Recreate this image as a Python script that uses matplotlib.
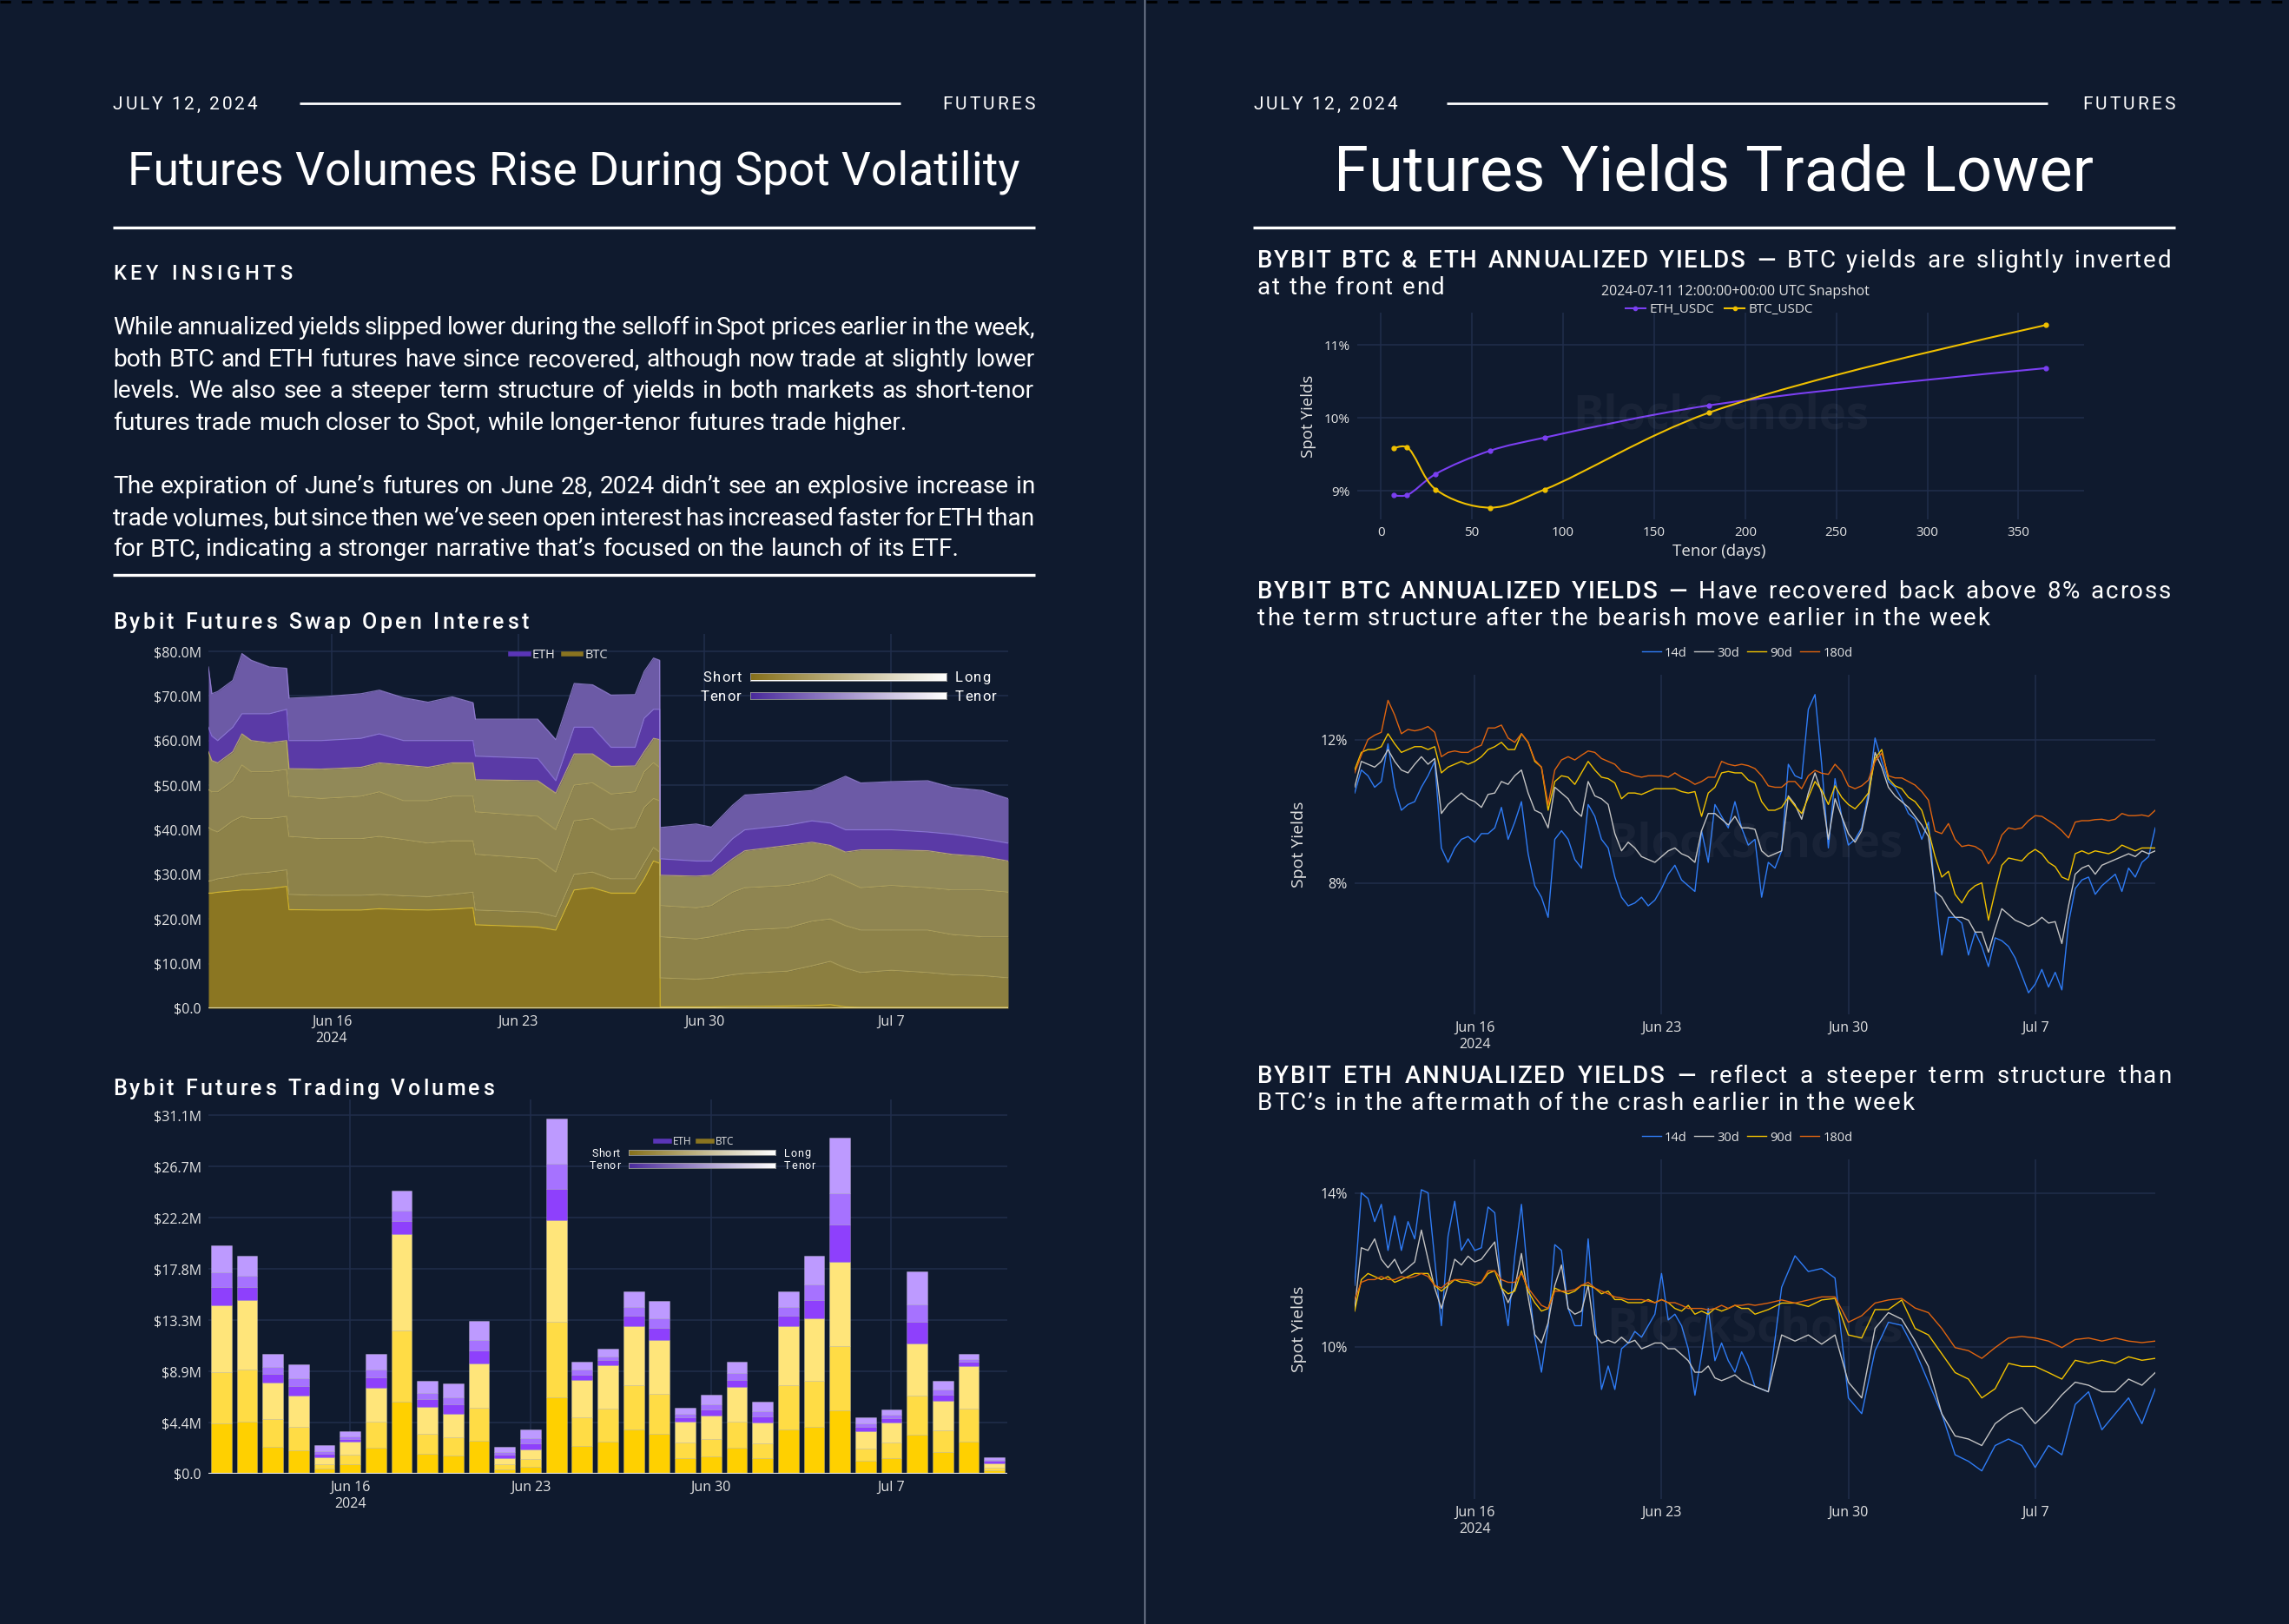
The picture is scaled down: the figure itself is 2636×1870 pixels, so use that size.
import numpy as np
import matplotlib
matplotlib.use("Agg")
import matplotlib.pyplot as plt
import matplotlib.dates as mdates
from matplotlib import font_manager as fm
from matplotlib.ft2font import FT2Font
from matplotlib.lines import Line2D
from matplotlib.path import Path
from matplotlib.patches import PathPatch
from matplotlib.colors import LinearSegmentedColormap

W, H = 2636, 1870
BG = "#0f1a2e"
GRID = "#212e4c"
TICK = "#e4e4e4"
TEXT_FONT = "Roboto"
CHART_FONT = "Open Sans"

# ---------------- page text ----------------
PARA1 = [
    "While annualized yields slipped lower during the selloff in Spot prices earlier in the week,",
    "both BTC and ETH futures have since recovered, although now trade at slightly lower",
    "levels. We also see a steeper term structure of yields in both markets as short-tenor",
    "futures trade much closer to Spot, while longer-tenor futures trade higher.",
]
PARA2 = [
    "The expiration of June\u2019s futures on June 28, 2024 didn\u2019t see an explosive increase in",
    "trade volumes, but since then we\u2019ve seen open interest has increased faster for ETH than",
    "for BTC, indicating a stronger narrative that\u2019s focused on the launch of its ETF.",
]

# ---------------- open interest (June day number, cumulative $M levels) ----------------
oi_day = [11.37, 11.50, 11.72, 12.29, 12.63, 12.98, 13.66, 14.31, 14.40, 15.60, 17.10, 17.79,
          18.70, 19.62, 20.53, 21.31, 21.40, 23.74, 24.42, 25.11, 25.80, 26.49, 27.40, 27.74,
          28.09, 28.32, 28.34, 29.69, 30.26, 31.06, 31.52, 33.12, 34.04, 34.73, 35.30, 35.87,
          37.02, 38.39, 39.30, 40.45, 41.41]
oi_btc_front = [25.8, 25.8, 26.0, 26.3, 26.5, 26.5, 26.8, 27.3, 22.1, 22.0, 22.0, 22.3,
                22.1, 22.0, 22.2, 22.5, 18.7, 18.2, 17.5, 26.5, 27.0, 25.8, 25.8, 29.0,
                33.0, 32.5, 0.3, 0.3, 0.3, 0.4, 0.4, 0.5, 0.6, 0.8, 0.3, 0.2,
                0.2, 0.2, 0.2, 0.2, 0.2]
oi_btc_2 = [28.5, 28.6, 29.0, 29.5, 30.0, 30.2, 30.5, 31.0, 25.5, 25.3, 25.3, 25.5,
            25.2, 25.0, 25.5, 26.0, 22.0, 21.5, 20.5, 30.0, 30.5, 29.0, 29.0, 32.5,
            36.0, 35.0, 6.8, 6.5, 6.7, 7.5, 7.8, 8.3, 9.5, 10.5, 9.0, 8.0,
            8.5, 8.0, 7.5, 7.3, 6.8]
oi_btc_3 = [40.5, 40.0, 39.5, 42.0, 43.0, 42.5, 42.5, 43.0, 38.5, 38.0, 38.0, 38.5,
            37.8, 37.0, 37.5, 37.5, 34.5, 33.5, 30.5, 42.0, 42.5, 40.0, 40.5, 45.0,
            47.0, 46.5, 16.0, 15.5, 16.0, 17.0, 17.5, 18.0, 19.5, 20.0, 18.5, 17.5,
            17.5, 17.5, 16.5, 16.0, 16.0]
oi_btc_4 = [49.0, 48.5, 48.5, 51.0, 54.5, 53.0, 53.0, 53.5, 47.5, 47.0, 47.5, 48.5,
            46.5, 46.5, 47.5, 47.5, 44.0, 43.0, 40.0, 50.0, 50.5, 48.0, 48.5, 53.0,
            55.0, 54.0, 23.0, 22.5, 23.0, 26.0, 27.0, 27.5, 28.5, 30.0, 28.5, 27.0,
            27.5, 27.0, 26.5, 26.5, 26.0]
oi_btc_total = [57.5, 55.5, 55.0, 57.5, 61.5, 60.0, 59.5, 60.0, 53.7, 53.6, 54.0, 55.0,
                54.5, 54.0, 55.0, 55.0, 51.2, 51.0, 48.2, 57.0, 57.0, 54.2, 54.3, 57.5,
                60.5, 60.2, 29.8, 29.6, 29.8, 33.5, 35.3, 36.5, 37.2, 36.5, 35.0, 35.5,
                35.5, 35.3, 34.5, 34.0, 33.0]
oi_eth_front = [63.0, 61.0, 60.0, 63.0, 66.0, 66.0, 66.0, 67.0, 60.0, 60.0, 60.5, 61.5,
                60.0, 60.0, 60.0, 60.0, 56.5, 56.0, 51.0, 63.0, 63.0, 58.5, 58.5, 65.0,
                67.0, 67.0, 33.5, 33.0, 33.0, 38.0, 40.0, 41.0, 42.0, 41.5, 40.0, 40.0,
                40.0, 39.5, 39.0, 38.0, 37.0]
oi_total = [76.5, 70.5, 71.0, 73.5, 79.5, 78.0, 76.5, 76.2, 69.5, 69.8, 70.5, 71.3,
            69.6, 68.6, 69.8, 68.5, 64.8, 64.8, 60.2, 72.8, 72.5, 70.2, 70.3, 75.5,
            78.5, 78.0, 40.5, 41.3, 40.6, 45.5, 47.8, 48.4, 48.8, 50.5, 52.0, 50.5,
            50.8, 51.0, 49.5, 48.8, 47.0]

# ---------------- daily trading volumes, Jun 11 .. Jul 11 ($M) ----------------
vol_btc = [14.63, 15.09, 7.90, 6.75, 1.40, 2.75, 7.47, 20.75, 5.79, 5.23, 9.56, 1.38, 2.12,
           22.02, 8.13, 9.41, 12.82, 11.60, 4.51, 5.05, 7.52, 4.44, 12.82, 13.46, 18.40,
           3.67, 4.46, 11.27, 6.32, 9.36, 0.94]
vol_eth = [5.20, 3.80, 2.47, 2.76, 1.07, 0.95, 2.90, 3.80, 2.26, 2.57, 3.67, 0.97, 1.75,
           8.82, 1.61, 1.40, 2.96, 3.39, 1.23, 1.83, 2.17, 1.78, 2.98, 5.43, 10.76,
           1.25, 1.15, 6.27, 1.73, 1.07, 0.51]
btc_tenor_share = [0.30, 0.30, 0.40]
eth_tenor_share = [0.30, 0.25, 0.45]

# ---------------- term structure snapshot ----------------
tenor_days = [7, 14, 30, 60, 90, 180, 365]
eth_curve = [8.94, 8.94, 9.23, 9.55, 9.73, 10.17, 10.68]
btc_curve = [9.58, 9.60, 9.02, 8.77, 9.02, 10.07, 11.27]

# ---------------- BTC annualized yields, every 6h from Jun 11 12:00 (%) ----------------
btc_14d = [10.52, 11.16, 11.00, 10.68, 10.84, 11.89, 10.68, 10.04, 10.20, 10.28,
           10.68, 11.00, 11.40, 8.99, 8.59, 8.99, 9.23, 9.31, 9.15, 9.39,
           9.39, 9.55, 10.12, 9.23, 9.71, 10.28, 8.83, 7.94, 7.62, 7.06,
           9.23, 9.47, 9.23, 8.67, 8.43, 10.20, 9.87, 9.23, 8.99, 8.18,
           7.62, 7.38, 7.46, 7.62, 7.38, 7.54, 7.86, 8.26, 8.51, 8.10,
           7.94, 7.78, 9.47, 8.59, 10.20, 9.87, 9.55, 10.28, 9.55, 9.07,
           9.23, 7.62, 8.59, 8.43, 8.91, 11.32, 11.00, 10.92, 12.85, 13.26,
           11.32, 8.99, 10.92, 9.87, 9.07, 9.23, 9.55, 10.52, 12.05, 11.40,
           10.84, 10.68, 10.36, 9.95, 9.79, 9.23, 9.71, 7.78, 6.01, 7.06,
           7.06, 6.90, 6.01, 6.65, 6.25, 5.69, 6.49, 6.41, 6.25, 5.93,
           5.45, 4.96, 5.20, 5.61, 5.12, 5.53, 5.04, 6.90, 7.86, 8.10,
           8.18, 7.70, 7.94, 8.10, 8.26, 7.78, 8.43, 8.18, 8.59, 8.75, 9.55]
btc_30d = [10.68, 11.40, 11.32, 11.24, 11.40, 11.73, 11.40, 11.16, 11.08, 11.32,
           11.53, 11.32, 11.48, 9.95, 10.20, 10.36, 10.52, 10.36, 10.28, 10.12,
           10.48, 10.52, 10.84, 10.76, 11.00, 11.16, 10.52, 10.04, 9.95, 9.55,
           10.68, 10.52, 10.36, 10.04, 9.87, 10.84, 10.44, 10.36, 10.20, 9.39,
           8.91, 9.15, 8.99, 8.75, 8.67, 8.59, 8.75, 8.91, 8.99, 8.83,
           8.75, 8.59, 9.47, 9.95, 9.95, 9.79, 9.63, 9.87, 9.55, 9.55,
           9.51, 8.91, 8.75, 8.83, 8.91, 10.44, 10.20, 9.79, 10.52, 11.08,
           10.52, 9.23, 10.36, 9.87, 9.39, 9.15, 9.47, 10.36, 11.65, 11.24,
           10.68, 10.44, 10.28, 10.12, 9.87, 9.63, 9.31, 7.78, 7.62, 7.30,
           7.06, 7.06, 6.98, 6.65, 6.65, 6.09, 6.73, 7.30, 7.14, 6.98,
           6.90, 6.81, 6.90, 7.06, 6.90, 6.94, 6.33, 7.38, 8.26, 8.43,
           8.51, 8.26, 8.51, 8.59, 8.67, 8.75, 8.83, 8.75, 8.91, 8.83, 8.91]
btc_90d = [11.16, 11.65, 11.73, 11.73, 11.81, 12.17, 11.89, 11.65, 11.73, 11.81,
           11.81, 11.73, 11.81, 11.08, 11.24, 11.32, 11.40, 11.32, 11.40, 11.53,
           11.73, 11.81, 11.93, 11.73, 11.73, 12.17, 11.93, 11.40, 11.24, 10.04,
           10.84, 11.00, 10.96, 10.76, 11.08, 11.40, 11.16, 10.96, 10.92, 10.80,
           10.36, 10.52, 10.52, 10.48, 10.56, 10.64, 10.64, 10.64, 10.64, 10.56,
           10.52, 10.56, 9.87, 10.52, 10.68, 11.08, 11.12, 11.08, 11.08, 10.88,
           10.80, 10.28, 10.04, 10.04, 10.12, 10.40, 10.16, 9.95, 10.40, 10.84,
           10.60, 10.20, 10.72, 10.40, 10.20, 10.08, 10.28, 10.52, 11.48, 11.73,
           10.92, 10.72, 10.64, 10.40, 10.28, 10.04, 9.47, 8.75, 8.18, 8.34,
           7.70, 7.46, 7.78, 7.94, 8.02, 6.98, 7.78, 8.51, 8.71, 8.67,
           8.63, 8.83, 8.95, 8.83, 8.59, 8.47, 8.18, 8.10, 8.83, 8.91,
           8.83, 8.91, 8.87, 8.83, 8.91, 9.07, 8.99, 8.91, 8.99, 8.99, 8.99]
btc_180d = [11.08, 11.57, 12.01, 12.13, 12.21, 13.10, 12.69, 12.17, 12.29, 12.25,
            12.29, 12.37, 12.21, 11.53, 11.65, 11.69, 11.65, 11.65, 11.77, 11.85,
            12.33, 12.33, 12.41, 12.05, 11.93, 12.17, 11.93, 11.44, 11.24, 10.20,
            11.16, 11.44, 11.53, 11.44, 11.57, 11.69, 11.65, 11.48, 11.40, 11.32,
            11.12, 11.08, 11.00, 10.96, 11.00, 11.00, 11.00, 10.96, 11.08, 10.96,
            10.88, 10.76, 10.84, 10.96, 10.96, 11.40, 11.32, 11.28, 11.32, 11.28,
            11.20, 11.00, 10.72, 10.68, 10.68, 10.84, 10.84, 10.64, 11.00, 11.15,
            11.07, 11.04, 11.32, 11.12, 10.72, 10.64, 10.72, 10.88, 11.40, 11.63,
            11.00, 10.94, 10.94, 10.84, 10.74, 10.56, 10.32, 9.46, 9.39, 9.67,
            9.23, 9.03, 9.07, 9.03, 8.91, 8.55, 8.83, 9.35, 9.55, 9.51,
            9.55, 9.75, 9.89, 9.87, 9.75, 9.63, 9.47, 9.27, 9.71, 9.75,
            9.75, 9.78, 9.79, 9.75, 9.79, 9.95, 9.89, 9.89, 9.91, 9.87, 10.04]

# ---------------- ETH annualized yields: every 6h to Jun 26 12:00, then every 12h (%) ----------------
eth_14d = [11.60, 14.01, 13.86, 13.26, 13.71, 12.51, 13.41, 12.51, 13.26, 12.81,
           14.09, 14.01, 12.28, 10.55, 12.88, 13.79, 12.51, 12.81, 12.51, 12.58,
           13.64, 13.49, 11.60, 10.55, 12.36, 13.71, 11.75, 10.25, 9.34, 10.55,
           12.66, 12.51, 11.00, 10.55, 10.55, 12.81, 10.70, 8.89, 9.50, 8.89,
           9.95, 10.10, 10.40, 10.25, 10.55, 10.85, 11.91, 10.70, 10.85, 10.55,
           9.95, 8.74, 9.80, 11.00, 9.64, 10.10, 9.64, 9.34, 9.87, 9.50, 8.97,
           8.83, 11.55, 12.37, 11.96, 12.04, 11.79, 8.67, 8.26, 9.90, 10.64,
           10.56, 9.90, 9.08, 8.26, 7.19, 7.02, 6.77, 7.43, 7.60, 7.43,
           6.86, 7.43, 7.19, 8.50, 8.83, 7.84, 8.26, 8.67, 8.00, 8.91]
eth_30d = [11.00, 12.58, 12.51, 12.81, 12.28, 12.06, 12.28, 11.91, 12.06, 12.21,
           13.04, 12.28, 11.53, 11.00, 11.60, 12.28, 12.13, 12.36, 12.21, 12.28,
           12.51, 12.73, 11.53, 11.15, 11.53, 12.43, 11.30, 10.32, 10.10, 10.63,
           11.60, 12.13, 11.00, 10.85, 10.93, 11.60, 10.32, 10.10, 10.17, 10.10,
           10.25, 10.10, 10.17, 9.95, 10.02, 10.10, 10.10, 9.95, 9.95, 9.80,
           9.64, 9.34, 9.34, 9.50, 9.19, 9.12, 9.19, 9.27, 9.12, 9.04, 8.97,
           8.83, 10.31, 10.15, 10.31, 10.07, 10.31, 9.08, 8.67, 10.48, 10.89,
           10.72, 10.15, 9.49, 8.26, 7.68, 7.60, 7.43, 8.00, 8.26, 8.42,
           8.00, 8.34, 8.75, 9.08, 9.00, 8.83, 8.83, 9.16, 9.00, 9.33]
eth_90d = [10.93, 11.75, 11.91, 11.83, 11.75, 11.83, 11.68, 11.75, 11.83, 11.91,
           11.91, 11.91, 11.60, 11.45, 11.60, 11.75, 11.68, 11.68, 11.60, 11.68,
           11.91, 11.98, 11.53, 11.38, 11.45, 11.98, 11.45, 11.15, 10.93, 11.00,
           11.53, 11.45, 11.38, 11.45, 11.60, 11.60, 11.53, 11.38, 11.45, 11.23,
           11.23, 11.15, 11.15, 11.15, 11.23, 11.15, 11.23, 11.15, 11.00, 10.93,
           11.08, 10.85, 10.93, 10.85, 11.00, 10.93, 11.00, 11.08, 11.00, 11.00, 10.85,
           10.97, 11.14, 11.14, 11.05, 11.22, 11.26, 10.31, 10.23, 10.97, 10.97,
           11.22, 10.48, 10.31, 9.82, 9.33, 9.16, 8.67, 8.91, 9.57, 9.49,
           9.49, 9.33, 9.16, 9.65, 9.57, 9.65, 9.57, 9.74, 9.65, 9.70]
eth_180d = [11.23, 11.68, 11.75, 11.75, 11.83, 11.75, 11.75, 11.83, 11.79, 11.83,
            11.91, 11.83, 11.60, 11.53, 11.68, 11.75, 11.75, 11.72, 11.68, 11.68,
            11.98, 11.98, 11.75, 11.68, 11.68, 11.91, 11.53, 11.30, 11.08, 11.00,
            11.45, 11.45, 11.45, 11.49, 11.60, 11.68, 11.53, 11.45, 11.38, 11.30,
            11.27, 11.23, 11.23, 11.23, 11.19, 11.15, 11.23, 11.15, 11.15, 11.08,
            11.00, 11.00, 11.00, 10.96, 11.00, 11.08, 11.00, 11.08, 11.08, 11.11, 11.08,
            11.14, 11.22, 11.14, 11.22, 11.30, 11.30, 10.64, 10.81, 11.14, 11.22,
            11.26, 11.01, 10.89, 10.48, 9.98, 9.90, 9.70, 9.98, 10.23, 10.27,
            10.23, 10.15, 9.98, 10.19, 10.23, 10.15, 10.23, 10.15, 10.11, 10.15]

tenor_labels = ["14d", "30d", "90d", "180d"]
tenor_colors = ["#2f7cf6", "#c4c4c4", "#f2c200", "#e0640f"]

JUNE_1 = mdates.date2num(np.datetime64("2024-06-01T00:00"))
DATE_TICKS = [16, 23, 30, 37]
DATE_LABELS = ["Jun 16\n2024", "Jun 23", "Jun 30", "Jul 7"]

FONT_CACHE = {}


def june_day(d):
    return JUNE_1 + np.asarray(d, dtype=float) - 1.0


def box(x0, y0, x1, y1):
    return [x0 / W, 1 - y1 / H, (x1 - x0) / W, (y1 - y0) / H]


def adv(text, size, weight="normal", family=TEXT_FONT):
    key = (family, weight)
    if key not in FONT_CACHE:
        path = fm.findfont(fm.FontProperties(family=family, weight=weight))
        FONT_CACHE[key] = FT2Font(path)
    font = FONT_CACHE[key]
    font.set_size(size, 100)
    return sum(font.load_char(ord(c)).linearHoriAdvance / 65536 for c in text)


def baseline(cy, size, k=0.36):
    return cy + k * size * 100 / 72


def put(fig, x, yb, s, size, weight="normal", color="white", family=TEXT_FONT, ha="left"):
    fig.text(x / W, 1 - yb / H, s, fontsize=size, fontweight=weight, color=color,
             family=family, ha=ha, va="baseline")


def tracked(fig, x, yb, s, size, weight, color, tracking):
    for c in s:
        put(fig, x, yb, c, size, weight, color)
        x += adv(c, size, weight) + tracking
    return x


def tracked_width(s, size, weight, tracking):
    return adv(s, size, weight) + tracking * (len(s) - 1)


def fit_tracking(s, size, weight, width):
    return max(0.0, (width - adv(s, size, weight)) / (len(s) - 1))


def word_run(fig, tokens, x0, yb, size, color="white", tracking=0.0, x1=None):
    widths = [adv(t, size, w) + tracking * len(t) for t, w in tokens]
    gap = adv(" ", size) + tracking
    if x1 is not None and len(tokens) > 1:
        gap = (x1 - x0 - sum(widths)) / (len(tokens) - 1)
    x = x0
    for (t, w), wd in zip(tokens, widths):
        if tracking:
            tracked(fig, x, yb, t, size, w, color, tracking)
        else:
            put(fig, x, yb, t, size, w, color)
        x += wd + gap


def hline(fig, x0, x1, y, lw=1.8, color="white"):
    fig.add_artist(Line2D([x0 / W, x1 / W], [1 - y / H] * 2, transform=fig.transFigure,
                          color=color, lw=lw, solid_capstyle="butt"))


def page_header(fig, left, right, line0, line1, title, title_w):
    size = 15.0
    yb = baseline(119, size)
    date = "JULY 12, 2024"
    tracked(fig, left, yb, date, size, "normal", "white", fit_tracking(date, size, "normal", 166))
    hline(fig, line0, line1, 119, lw=2.0)
    tr = fit_tracking("FUTURES", size, "normal", 107)
    fw = tracked_width("FUTURES", size, "normal", tr)
    tracked(fig, right - fw, yb, "FUTURES", size, "normal", "white", tr)
    tsize = 30 * title_w / adv(title, 30)
    cx = (left + right) / 2
    put(fig, cx, baseline(193, tsize), title, tsize, ha="center")
    hline(fig, left, right, 262, lw=2.4)


def section_title(fig, bold, rest, line2, x0, x1, cy):
    size, tr = 20.0, 1.8
    tokens = [(w, "medium") for w in bold.split()] + [(w, "normal") for w in rest.split()]
    word_run(fig, tokens, x0, baseline(cy, size), size, tracking=tr, x1=x1)
    word_run(fig, [(w, "normal") for w in line2.split()], x0, baseline(cy + 31, size), size, tracking=tr)


def style_axes(ax, ylim, yticks, ylabels, size=11.5):
    ax.set_facecolor("none")
    ax.set_ylim(*ylim)
    ax.set_yticks(yticks)
    ax.set_yticklabels(ylabels)
    for s in ax.spines.values():
        s.set_visible(False)
    ax.tick_params(length=0, colors=TICK, labelsize=size, pad=6)
    ax.grid(True, color=GRID, lw=1.1)
    ax.set_axisbelow(True)
    for lab in ax.get_xticklabels() + ax.get_yticklabels():
        lab.set_fontfamily(CHART_FONT)


def date_axis(ax, lo, hi, size=11.5):
    ax.set_xlim(lo, hi)
    ax.set_xticks(june_day(DATE_TICKS))
    ax.set_xticklabels(DATE_LABELS, fontfamily=CHART_FONT, fontsize=size, color=TICK,
                       linespacing=1.2)


def gradient_bar(fig, x0, y0, x1, y1, c0):
    gax = fig.add_axes(box(x0, y0, x1, y1))
    cmap = LinearSegmentedColormap.from_list("tenor", [c0, "#ffffff"])
    gax.imshow(np.linspace(0, 1, 256)[None, :], aspect="auto", cmap=cmap)
    gax.set_xticks([])
    gax.set_yticks([])
    for s in gax.spines.values():
        s.set_edgecolor("#9a9a9a")
        s.set_linewidth(0.6)


def tenor_key(fig, x0, x1, y_gold, y_purple, h, size, tr):
    gradient_bar(fig, x0, y_gold - h / 2, x1, y_gold + h / 2, "#86701a")
    gradient_bar(fig, x0, y_purple - h / 2, x1, y_purple + h / 2, "#4a2a9c")
    for word, cy in (("Short", y_gold), ("Tenor", y_purple)):
        w = tracked_width(word, size, "normal", tr)
        tracked(fig, x0 - 10 - w, baseline(cy, size), word, size, "normal", "white", tr)
    for word, cy in (("Long", y_gold), ("Tenor", y_purple)):
        tracked(fig, x1 + 10, baseline(cy, size), word, size, "normal", "white", tr)


def coin_legend(ax, fig, cx, cy, size):
    handles = [Line2D([], [], color="#5a35b8", lw=4, label="ETH"),
               Line2D([], [], color="#8a7420", lw=4, label="BTC")]
    ax.legend(handles=handles, loc="center", bbox_to_anchor=(cx / W, 1 - cy / H),
              bbox_transform=fig.transFigure, ncol=2, frameon=False, labelcolor=TICK,
              prop={"family": CHART_FONT, "size": size}, handlelength=1.4,
              handletextpad=0.3, columnspacing=0.6)


def spline_path(xs, ys, sx, sy):
    pts = np.column_stack([np.asarray(xs, float) * sx, np.asarray(ys, float) * sy])
    n = len(pts)
    tang = []
    for i in range(1, n - 1):
        d1 = pts[i - 1] - pts[i]
        d2 = pts[i + 1] - pts[i]
        d1a = np.hypot(*d1) ** 0.5
        d2a = np.hypot(*d2) ** 0.5
        num = d2a ** 2 * d1 - d1a ** 2 * d2
        tang.append((pts[i] + num / (3 * d2a * (d1a + d2a)),
                     pts[i] - num / (3 * d1a * (d1a + d2a))))
    verts = [pts[0], tang[0][0], pts[1]]
    codes = [Path.MOVETO, Path.CURVE3, Path.CURVE3]
    for i in range(1, n - 2):
        verts += [tang[i - 1][1], tang[i][0], pts[i + 1]]
        codes += [Path.CURVE4] * 3
    verts += [tang[-1][1], pts[-1]]
    codes += [Path.CURVE3, Path.CURVE3]
    return Path(np.array(verts) / [sx, sy], codes)


def watermark(ax):
    ax.text(0.5, 0.5, "BlockScholes", transform=ax.transAxes, ha="center", va="center",
            fontsize=38, fontweight="bold", family=CHART_FONT, color="white", alpha=0.045)


def draw_open_interest(fig):
    ax = fig.add_axes(box(240, 730, 1161, 1161))
    t = june_day(oi_day)
    levels = [np.zeros(len(oi_day)), oi_btc_front, oi_btc_2, oi_btc_3, oi_btc_4,
              oi_btc_total, oi_eth_front, oi_total]
    fills = ["#8b7622", "#8c7f40", "#8d8249", "#8f8551", "#918958", "#5a3aa6", "#6c5aa6"]
    for lo, hi, c in zip(levels[:-1], levels[1:], fills):
        ax.fill_between(t, lo, hi, color=c, lw=0)
    edges = ["#e2c22c", "#b3a55e", "#b3a55e", "#b3a55e", "#c9bb6a", "#9178e0", "#9c86dc"]
    for lvl, c in zip(levels[1:], edges):
        ax.plot(t, lvl, color=c, lw=0.9, alpha=0.8)
    ax.axhline(0, color="#d8d0a0", lw=1.6)
    style_axes(ax, (0, 83.9), np.arange(0, 81, 10),
               ["$0.0"] + ["$%.1fM" % v for v in range(10, 81, 10)])
    date_axis(ax, june_day(11.37), june_day(41.41))
    coin_legend(ax, fig, 644, 755, 10.5)
    tenor_key(fig, 864, 1090, 779, 801, 9, 12, 1.2)


def draw_volumes(fig):
    ax = fig.add_axes(box(240, 1266, 1160, 1697))
    days = np.arange(11, 11 + len(vol_btc))
    x = june_day(days)
    bottom = np.zeros(len(vol_btc))
    btc = np.asarray(vol_btc)
    eth = np.asarray(vol_eth)
    for share, c in zip(btc_tenor_share, ["#ffd000", "#ffdc45", "#ffe57a"]):
        ax.bar(x, btc * share, 0.8, bottom=bottom, color=c, edgecolor=(1, 1, 1, 0.3), lw=0.5)
        bottom = bottom + btc * share
    for share, c in zip(eth_tenor_share, ["#8e40fc", "#a672ff", "#bd9aff"]):
        ax.bar(x, eth * share, 0.8, bottom=bottom, color=c, edgecolor=(1, 1, 1, 0.3), lw=0.5)
        bottom = bottom + eth * share
    ax.axhline(0, color="#e0e0e0", lw=1.6)
    step = 31.1 / 7
    ticks = np.arange(8) * step
    style_axes(ax, (0, 32.46), ticks, ["$0.0"] + ["$%.1fM" % v for v in ticks[1:]])
    date_axis(ax, june_day(10.5), june_day(41.5))
    coin_legend(ax, fig, 800, 1315, 8.5)
    tenor_key(fig, 724, 893, 1327, 1342, 6, 9, 0.8)


def draw_term_structure(fig):
    x0, y0, x1, y1 = 1563, 360, 2400, 598
    ax = fig.add_axes(box(x0, y0, x1, y1))
    xlim, ylim = (-13, 386), (8.61, 11.44)
    sx = (x1 - x0) / (xlim[1] - xlim[0])
    sy = (y1 - y0) / (ylim[1] - ylim[0])
    for ys, c, lab in ((eth_curve, "#7b3ff2", "ETH_USDC"), (btc_curve, "#f0c000", "BTC_USDC")):
        ax.add_patch(PathPatch(spline_path(tenor_days, ys, sx, sy), fill=False,
                               edgecolor=c, lw=1.5))
        ax.plot(tenor_days, ys, "o", color=c, ms=3.5, label=lab, ls="-", lw=0)
    ax.set_xlim(*xlim)
    ax.set_xticks(np.arange(0, 351, 50))
    style_axes(ax, ylim, [9, 10, 11], ["9%", "10%", "11%"], size=11)
    watermark(ax)
    handles = [Line2D([], [], color="#7b3ff2", lw=1.5, marker="o", ms=3, label="ETH_USDC"),
               Line2D([], [], color="#f0c000", lw=1.5, marker="o", ms=3, label="BTC_USDC")]
    ax.legend(handles=handles, loc="center", bbox_to_anchor=(1980 / W, 1 - 357 / H),
              bbox_transform=fig.transFigure, ncol=2, frameon=False, labelcolor=TICK,
              prop={"family": CHART_FONT, "size": 11}, handlelength=1.5,
              handletextpad=0.3, columnspacing=0.8)
    fig.text(1998 / W, 1 - 336 / H, "2024-07-11 12:00:00+00:00 UTC Snapshot", ha="center",
             va="center", fontsize=11.5, color=TICK, family=CHART_FONT)
    fig.text(1980 / W, 1 - 635 / H, "Tenor (days)", ha="center", va="center",
             fontsize=13.5, color=TICK, family=CHART_FONT)
    fig.text(1507 / W, 1 - 479 / H, "Spot Yields", ha="center", va="center", rotation=90,
             fontsize=13.5, color=TICK, family=CHART_FONT, fontweight="medium")


def draw_yields(fig, series, times, top, bottom, ylim, yticks):
    ax = fig.add_axes(box(1560, top, 2482, bottom))
    t = mdates.date2num(times)
    for ys, c, lab in zip(series, tenor_colors, tenor_labels):
        ax.plot(t, ys, color=c, lw=1.0, label=lab)
    style_axes(ax, ylim, yticks, ["%d%%" % v for v in yticks], size=11.5)
    date_axis(ax, t[0], t[-1], size=11.5)
    watermark(ax)
    ax.legend(loc="center", bbox_to_anchor=(2012 / W, 1 - (top - 25) / H),
              bbox_transform=fig.transFigure, ncol=4, frameon=False, labelcolor=TICK,
              prop={"family": CHART_FONT, "size": 10.5}, handlelength=1.5,
              handletextpad=0.3, columnspacing=0.6)
    fig.text(1496 / W, 1 - (top + bottom) / 2 / H, "Spot Yields", ha="center", va="center",
             rotation=90, fontsize=14, color=TICK, family=CHART_FONT, fontweight="medium")


def main():
    fig = plt.figure(figsize=(W / 100, H / 100), dpi=100, facecolor=BG)

    # page frame
    fig.add_artist(Line2D([0, 1], [1 - 1.5 / H] * 2, transform=fig.transFigure,
                          color="black", lw=2.2, ls=(0, (4, 4))))
    fig.add_artist(Line2D([1318 / W] * 2, [0, 1], transform=fig.transFigure,
                          color="#8e97aa", lw=1.0))

    # left page text
    page_header(fig, 130, 1192, 345, 1037,
                "Futures Volumes Rise During Spot Volatility", 1026)
    kw = "KEY INSIGHTS"
    ks = 17.0
    tracked(fig, 130, baseline(313, ks), kw, ks, "medium", "white",
            fit_tracking(kw, ks, "medium", 206))
    psize = 17 * 917 / adv(PARA1[-1], 17)
    for lines, ys in ((PARA1, [377, 414, 450, 487]), (PARA2, [560, 597, 632])):
        for i, (line, cy) in enumerate(zip(lines, ys)):
            tokens = [(w, "normal") for w in line.split()]
            x1 = 1192 if i < len(lines) - 1 else None
            word_run(fig, tokens, 130, baseline(cy, psize, 0.3), psize, x1=x1)
    hline(fig, 130, 1192, 662, lw=2.4)
    for title, cy, width in (("Bybit Futures Swap Open Interest", 715, 479),
                             ("Bybit Futures Trading Volumes", 1252, 439)):
        ts = 18.0
        tracked(fig, 130, baseline(cy, ts), title, ts, "medium", "white",
                fit_tracking(title, ts, "medium", width))

    draw_open_interest(fig)
    draw_volumes(fig)

    # right page
    page_header(fig, 1443, 2505, 1666, 2358, "Futures Yields Trade Lower", 875)
    section_title(fig, "BYBIT BTC & ETH ANNUALIZED YIELDS \u2014", "BTC yields are slightly inverted",
                  "at the front end", 1448, 2502, 298)
    section_title(fig, "BYBIT BTC ANNUALIZED YIELDS \u2014", "Have recovered back above 8% across",
                  "the term structure after the bearish move earlier in the week", 1448, 2502, 679)
    section_title(fig, "BYBIT ETH ANNUALIZED YIELDS \u2014", "reflect a steeper term structure than",
                  "BTC\u2019s in the aftermath of the crash earlier in the week", 1448, 2502, 1237)

    draw_term_structure(fig)
    six_h = np.timedelta64(6, "h")
    btc_times = np.datetime64("2024-06-11T12:00") + np.arange(len(btc_14d)) * six_h
    eth_times = np.concatenate([
        np.datetime64("2024-06-11T12:00") + np.arange(61) * six_h,
        np.datetime64("2024-06-27T00:00") + np.arange(len(eth_14d) - 61) * 2 * six_h,
    ])
    draw_yields(fig, [btc_14d, btc_30d, btc_90d, btc_180d], btc_times, 777, 1168,
                (4.36, 13.81), [8, 12])
    draw_yields(fig, [eth_14d, eth_30d, eth_90d, eth_180d], eth_times, 1335, 1726,
                (6.04, 14.88), [10, 14])

    fig.savefig("out.png", dpi=100, facecolor=BG)
    plt.close(fig)


if __name__ == "__main__":
    main()
